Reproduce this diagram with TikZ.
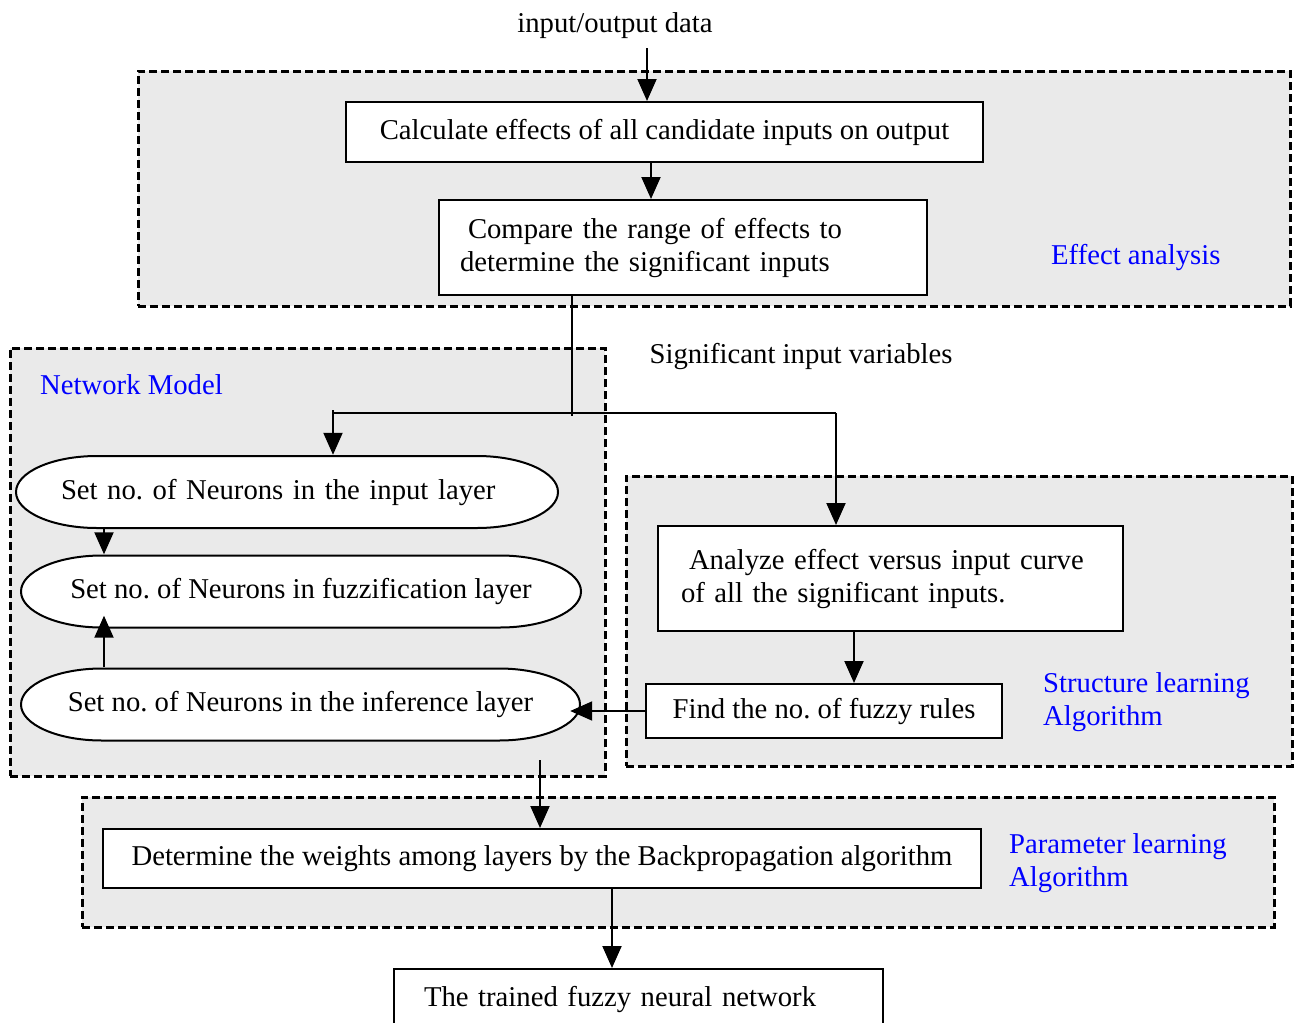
\documentclass[tikz,border=0pt]{standalone}
\usepackage{fontspec}
\setmainfont{Liberation Serif}
\usepackage{tikz}
\usetikzlibrary{positioning,arrows.meta,calc}
\definecolor{panel}{RGB}{234,234,234}
\definecolor{tagblue}{RGB}{0,0,255}
\frenchspacing

\begin{document}
\begin{tikzpicture}[x=1pt,y=-1pt,
    every node/.style={font=\fontsize{28.7}{33}\selectfont},
    box/.style={draw,line width=2pt,fill=white,inner sep=0pt,align=center},
    grp/.style={draw,line width=3pt,dash pattern=on 8pt off 4pt,fill=panel,inner sep=0pt},
    tag/.style={text=tagblue,anchor=west,inner sep=0pt,align=left},
    layer/.style={inner sep=0pt,minimum height=74pt,align=center,
      path picture={\draw[line width=2pt,fill=white]
        ([xshift=82pt,yshift=-1pt]path picture bounding box.north west)
        -- ([xshift=-82pt,yshift=-1pt]path picture bounding box.north east)
        arc[start angle=90,end angle=-90,x radius=81pt,y radius=36pt]
        -- ([xshift=82pt,yshift=1pt]path picture bounding box.south west)
        arc[start angle=270,end angle=90,x radius=81pt,y radius=36pt] -- cycle;}},
    arr/.style={line width=2pt,-{Triangle[width=19pt,length=22pt]}}
  ]
    \path[use as bounding box,clip] (0,0) rectangle (1294,1023);
    \fill[white] (0,0) rectangle (1294,1023);

    \node[grp,minimum width=1152pt,minimum height=235pt] (effectgrp) at (714,188.5) {};
    \node[grp,minimum width=595pt,minimum height=428pt] (netgrp) at (307.5,562) {};
    \node[grp,minimum width=666pt,minimum height=290pt] (structgrp) at (959,621) {};
    \node[grp,minimum width=1192pt,minimum height=130pt] (paramgrp) at (678,862) {};

    \node[inner sep=0pt] (io) at (615,26) {input/output data};
    \node[box,minimum width=637pt,minimum height=60pt] (calc) at (664.5,132) {Calculate effects of all candidate inputs on output};
    \node[box,minimum height=95pt,text width=446pt,inner xsep=21pt,align=left] (cmp) at (683,247.5) {\hspace*{8pt}Compare the range of effects to\\determine the significant inputs};
    \node[tag] (effecttag) at (1051,257) {Effect analysis};

    \node[inner sep=0pt] (sigvars) at (801,356) {Significant input variables};

    \node[tag] (nettag) at (40,385) {Network Model};
    \node[layer,minimum width=544pt,text width=452pt,inner xsep=46pt,align=left] (inlayer) at (287,492) {Set no. of Neurons in the input layer};
    \node[layer,minimum width=562pt] (fuzzlayer) at (301,591.5) {Set no. of Neurons in fuzzification layer};
    \node[layer,minimum width=561pt] (inflayer) at (300.5,704.5) {Set no. of Neurons in the inference layer};

    \node[box,minimum height=105pt,text width=419pt,inner xsep=23pt,align=left] (analyze) at (890.5,578.5) {\hspace*{8pt}Analyze effect versus input curve\\of all the significant inputs.};
    \node[box,minimum width=356pt,minimum height=54pt] (find) at (824,711) {Find the no. of fuzzy rules};
    \node[tag] (structtag) at (1043,702.5) {Structure learning\\Algorithm};

    \node[box,minimum width=878pt,minimum height=59pt] (determine) at (542,858.5) {Determine the weights among layers by the Backpropagation algorithm};
    \node[tag] (paramtag) at (1009,863.5) {Parameter learning\\Algorithm};
    \node[box,minimum height=60pt,text width=429pt,inner xsep=30pt,align=left] (trained) at (638.5,999) {The trained fuzzy neural network};

    \coordinate (iotip) at (647,48);
    \draw[arr] (iotip) -- (iotip |- calc.north);
    \draw[arr] ([xshift=-13.5pt]calc.south) -- ([xshift=-13.5pt]calc.south |- cmp.north);

    \coordinate (split) at (572,416);
    \coordinate (lj) at (333,410);
    \coordinate (rj) at (836,413);
    \draw[line width=2pt] (split |- cmp.south) -- (split);
    \draw[line width=2pt] (lj |- rj) -- (rj);
    \draw[arr] (lj) -- (lj |- inlayer.north);
    \draw[arr] (rj) -- (rj |- analyze.north);

    \coordinate (col) at (104,0);
    \draw[arr] (col |- inlayer.south) -- (col |- fuzzlayer.north);
    \draw[arr,shorten >=-13pt] (col |- inflayer.north) -- (col |- fuzzlayer.south);

    \draw[arr] ([xshift=-36.5pt]analyze.south) -- ([xshift=-36.5pt]analyze.south |- find.north);
    \draw[arr,shorten >=-11pt] (find.west) -- (find.west -| inflayer.east);

    \coordinate (netout) at (540,760);
    \draw[arr] (netout) -- (netout |- determine.north);
    \draw[arr] ([xshift=70pt]determine.south) -- ([xshift=70pt]determine.south |- trained.north);
  \end{tikzpicture}
\end{document}
